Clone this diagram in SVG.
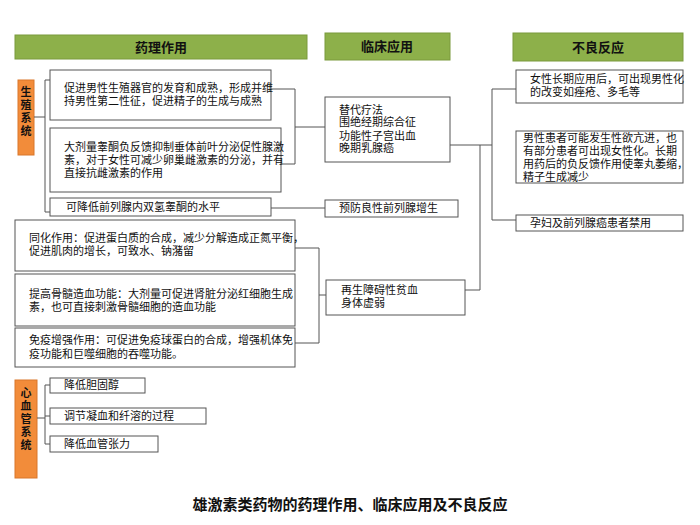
<svg xmlns="http://www.w3.org/2000/svg" width="700" height="525" viewBox="0 0 700 525">
<style>
text{font-family:"Liberation Sans","Noto Sans CJK SC",sans-serif;font-size:11px;fill:#111}
.hd{fill:#8db04a;stroke:#7a9a3c;stroke-width:1}
.ht{font-size:13px;font-weight:bold;text-anchor:middle}
.or{fill:#f28c3a;stroke:#d9772a;stroke-width:1}
.ot{font-size:11px;font-weight:bold;text-anchor:middle}
.bx{fill:#fff;stroke:#555;stroke-width:1}
.c{fill:none;stroke:#555;stroke-width:1}
</style>
<rect width="700" height="525" fill="#fff"/>
<g id="h1"><rect class="hd" x="15" y="35" width="292" height="24"/><text class="ht" x="161" y="52">药理作用</text></g>
<g id="h2"><rect class="hd" x="325" y="33" width="125" height="27"/><text class="ht" x="387" y="51">临床应用</text></g>
<g id="h3"><rect class="hd" x="513" y="33" width="170" height="28"/><text class="ht" x="598" y="52">不良反应</text></g>
<g id="s1"><rect class="or" x="18" y="80" width="16" height="75"/><text class="ot" x="26" y="96">生</text><text class="ot" x="26" y="109">殖</text><text class="ot" x="26" y="122">系</text><text class="ot" x="26" y="135">统</text></g>
<g id="s2"><rect class="or" x="15" y="380" width="22" height="98"/><text class="ot" x="26" y="397">心</text><text class="ot" x="26" y="410">血</text><text class="ot" x="26" y="423">管</text><text class="ot" x="26" y="436">系</text><text class="ot" x="26" y="449">统</text></g>
<g id="b1"><rect class="bx" x="50" y="70" width="221" height="50"/><text x="64" y="92">促进男性生殖器官的发育和成熟，形成并维</text><text x="64" y="105">持男性第二性征，促进精子的生成与成熟</text></g>
<g id="b2"><rect class="bx" x="50" y="128" width="231" height="64"/><text x="64" y="151">大剂量睾酮负反馈抑制垂体前叶分泌促性腺激</text><text x="64" y="164">素，对于女性可减少卵巢雌激素的分泌，并有</text><text x="64" y="177">直接抗雌激素的作用</text></g>
<g id="b3"><rect class="bx" x="50" y="198" width="221" height="18"/><text x="66" y="211">可降低前列腺内双氢睾酮的水平</text></g>
<g id="b4"><rect class="bx" x="15" y="220" width="280" height="51"/><text x="29" y="242">同化作用：促进蛋白质的合成，减少分解造成正氮平衡，</text><text x="29" y="255">促进肌肉的增长，可致水、钠潴留</text></g>
<g id="b5"><rect class="bx" x="15" y="274" width="280" height="52"/><text x="29" y="298">提高骨髓造血功能：大剂量可促进肾脏分泌红细胞生成</text><text x="29" y="311">素，也可直接刺激骨髓细胞的造血功能</text></g>
<g id="b6"><rect class="bx" x="15" y="328" width="280" height="39"/><text x="29" y="344">免疫增强作用：可促进免疫球蛋白的合成，增强机体免</text><text x="29" y="358">疫功能和巨噬细胞的吞噬功能。</text></g>
<g id="c1"><rect class="bx" x="50" y="378" width="95" height="15"/><text x="64" y="389">降低胆固醇</text></g>
<g id="c2"><rect class="bx" x="50" y="408" width="156" height="16"/><text x="64" y="420">调节凝血和纤溶的过程</text></g>
<g id="c3"><rect class="bx" x="50" y="436" width="108" height="16"/><text x="64" y="448">降低血管张力</text></g>
<g id="k1"><rect class="bx" x="325" y="97" width="125" height="65"/><text x="339" y="114">替代疗法</text><text x="339" y="126">围绝经期综合征</text><text x="339" y="140">功能性子宫出血</text><text x="339" y="152">晚期乳腺癌</text></g>
<g id="k2"><rect class="bx" x="325" y="200" width="133" height="17"/><text x="339" y="212">预防良性前列腺增生</text></g>
<g id="k3"><rect class="bx" x="326" y="280" width="139" height="35"/><text x="341" y="294">再生障碍性贫血</text><text x="341" y="307">身体虚弱</text></g>
<g id="a1"><rect class="bx" x="516" y="70" width="167" height="33"/><text x="530" y="83">女性长期应用后，可出现男性化</text><text x="530" y="96">的改变如痤疮、多毛等</text></g>
<g id="a2"><rect class="bx" x="516" y="131" width="167" height="52"/><text x="523" y="142">男性患者可能发生性欲亢进，也</text><text x="523" y="155">有部分患者可出现女性化。长期</text><text x="523" y="168">用药后的负反馈作用使睾丸萎缩，</text><text x="523" y="181">精子生成减少</text></g>
<g id="a3"><rect class="bx" x="516" y="215" width="167" height="16"/><text x="530" y="227">孕妇及前列腺癌患者禁用</text></g>
<g id="connectors">
<path class="c" d="M34 117H40M45 80V212M45 80H50M45 212H50M45 117H40"/>
<path class="c" d="M37 418H45M45 385V444M45 385H50M45 416H50M45 444H50"/>
<path class="c" d="M271 89H295V164H281M295 127H325"/>
<path class="c" d="M271 208H325"/>
<path class="c" d="M295 248H319V343H295M319 295H326"/>
<path class="c" d="M450 145H492M480 145V290H465"/>
<path class="c" d="M516 89H492V220H516"/>
</g>
<text x="350" y="510" style="font-size:15px;font-weight:bold;text-anchor:middle">雄激素类药物的药理作用、临床应用及不良反应</text>
</svg>
